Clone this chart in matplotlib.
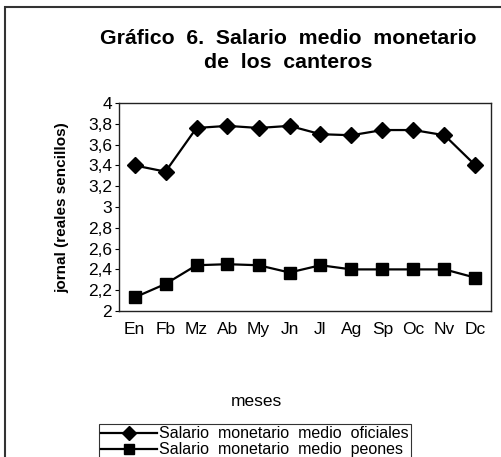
import matplotlib
matplotlib.use('Agg')
import matplotlib.pyplot as plt
from matplotlib.patches import Rectangle

# data
meses = ['En', 'Fb', 'Mz', 'Ab', 'My', 'Jn', 'Jl', 'Ag', 'Sp', 'Oc', 'Nv', 'Dc']
oficiales = [3.40, 3.34, 3.76, 3.78, 3.76, 3.78, 3.70, 3.69, 3.74, 3.74, 3.69, 3.40]
peones = [2.13, 2.26, 2.44, 2.45, 2.44, 2.37, 2.44, 2.40, 2.40, 2.40, 2.40, 2.32]
yticks = [2, 2.2, 2.4, 2.6, 2.8, 3, 3.2, 3.4, 3.6, 3.8, 4]

plt.rcParams['font.family'] = ['Liberation Sans', 'DejaVu Sans']

W, H = 501, 457
fig = plt.figure(figsize=(W / 100, H / 100), dpi=100)

# outer frame of the original chart (cropped on right and bottom)
fig.patches.append(Rectangle((5 / W, -0.1), 1.2, 1 - 7 / H + 0.1, transform=fig.transFigure,
                             fill=False, edgecolor='#333333', linewidth=1.5))

ax = fig.add_axes([119 / W, 1 - 311 / H, (491 - 119) / W, (311 - 103) / H])
x = list(range(len(meses)))
ax.plot(x, oficiales, color='black', linewidth=1.6, marker='D', markersize=8.5,
        label='Salario  monetario  medio  oficiales')
ax.plot(x, peones, color='black', linewidth=1.6, marker='s', markersize=8,
        label='Salario  monetario  medio  peones')

ax.set_xlim(-0.5, len(meses) - 0.5)
ax.set_ylim(2, 4)
ax.set_yticks(yticks)
ax.set_yticklabels([('%g' % v).replace('.', ',') for v in yticks], fontsize=12.5)
ax.set_xticks(x)
ax.set_xticklabels(meses, fontsize=12.5)
ax.tick_params(axis='x', length=0, pad=8)
ax.tick_params(axis='y', length=3, width=0.8, pad=2)
for s in ax.spines.values():
    s.set_linewidth(1.0)
    s.set_color('#222222')

fig.text(62 / W, 1 - 208 / H, 'jornal (reales sencillos)', rotation=90,
         ha='center', va='center', fontsize=11, fontweight='bold')
fig.text(256 / W, 1 - 402 / H, 'meses', ha='center', va='center', fontsize=12.5)

fig.text(288 / W, 1 - 38 / H, 'Gráfico  6.  Salario  medio  monetario', ha='center', va='center',
         fontsize=15.3, fontweight='bold')
fig.text(288 / W, 1 - 63 / H, 'de  los  canteros', ha='center', va='center',
         fontsize=15.3, fontweight='bold')

leg = fig.legend(loc='upper left', bbox_to_anchor=(99 / W, 1 - 424 / H), fontsize=11.5,
                 frameon=True, fancybox=False, edgecolor='black', borderpad=0.15,
                 handlelength=3.5, handletextpad=0.1, labelspacing=0.05, borderaxespad=0,
                 markerscale=0.85)
leg.get_frame().set_linewidth(0.8)

fig.savefig('out.png', dpi=100)
